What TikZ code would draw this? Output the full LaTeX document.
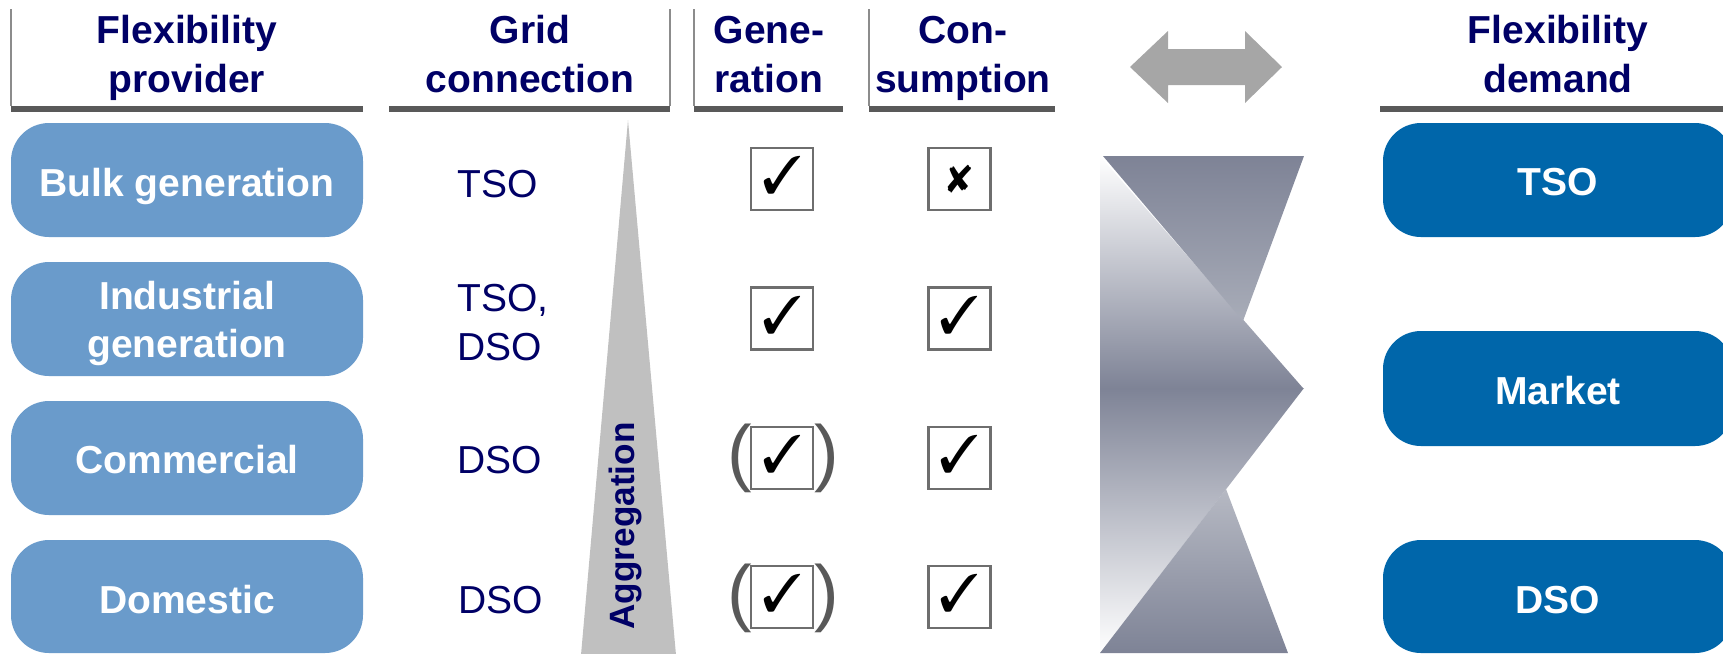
\documentclass[tikz,border=0pt]{standalone}
\usepackage{fontspec}
\setmainfont{Liberation Sans}
\usepackage{pifont}
\definecolor{navy}{RGB}{0,0,102}
\definecolor{lblue}{RGB}{106,155,203}
\definecolor{dblue}{RGB}{0,102,170}
\definecolor{bargrey}{RGB}{89,89,89}
\definecolor{linegrey}{RGB}{140,140,140}
\definecolor{arrowgrey}{RGB}{166,166,166}
\definecolor{trigrey}{RGB}{192,192,192}
\definecolor{boxgrey}{RGB}{110,110,110}
\definecolor{hgdark}{RGB}{126,131,150}
\definecolor{hgmid}{RGB}{168,172,184}
\definecolor{hglight}{RGB}{182,185,195}
\begin{document}
\begin{tikzpicture}[x=0.01cm,y=-0.01cm,
  hdr/.style={font=\fontsize{11.1}{13.9}\selectfont\bfseries, text=navy, align=center, inner sep=0pt},
  boxtxt/.style={font=\fontsize{11.1}{13.4}\selectfont\bfseries, text=white, align=center, inner sep=0pt},
  gridtxt/.style={font=\fontsize{11.1}{13.7}\selectfont, text=navy, align=left, inner sep=0pt, anchor=base west},
  lbox/.style={fill=lblue, rounded corners=10.8pt},
  rbox/.style={fill=dblue, rounded corners=10.8pt},
  hbar/.style={fill=bargrey},
  hline/.style={draw=linegrey, line width=0.4pt},
  chkbox/.style={draw=boxgrey, line width=0.6pt, minimum size=0.62cm, inner sep=0pt},
  chk/.style={font=\fontsize{15}{15}\selectfont, inner sep=0pt},
  paren/.style={font=\fontsize{21}{21}\selectfont, text=bargrey, inner sep=0pt},
]
\useasboundingbox (0,0) rectangle (1723,653);
\clip (0,0) rectangle (1723,653);

% header bars and lines
\fill[hbar] (11,106) rectangle (363,112);
\fill[hbar] (389,106) rectangle (670,112);
\fill[hbar] (694,106) rectangle (843,112);
\fill[hbar] (869,106) rectangle (1055,112);
\fill[hbar] (1380,106) rectangle (1723,112);
\draw[hline] (11,9) -- (11,106);
\draw[hline] (670,9) -- (670,106);
\draw[hline] (694,9) -- (694,106);
\draw[hline] (869,9) -- (869,106);

% headers (anchor base = baseline of last line)
\node[hdr, anchor=base] (h1) at (187,92) {Flexibility\\provider};
\node[hdr, anchor=base] (h2) at (530,92) {Grid\\connection};
\node[hdr, anchor=base] (h3) at (769,92) {Gene-\\ration};
\node[hdr, anchor=base] (h4) at (963,92) {Con-\\sumption};
\node[hdr, anchor=base] (h5) at (1558,92) {Flexibility\\demand};

% double arrow
\fill[arrowgrey] (1130,67) -- (1168,31) -- (1168,49) -- (1245,49) -- (1245,31)
  -- (1282,67) -- (1245,103) -- (1245,85) -- (1168,85) -- (1168,103) -- cycle;

% left boxes
\fill[lbox] (11,123) rectangle (363,237);
\fill[lbox] (11,262) rectangle (363,376);
\fill[lbox] (11,401) rectangle (363,515);
\fill[lbox] (11,540) rectangle (363,653);
\node[boxtxt, anchor=base] (bulk) at (187,196) {Bulk generation};
\node[boxtxt, anchor=base] (ind) at (187,357) {Industrial\\generation};
\node[boxtxt, anchor=base] (com) at (187,473) {Commercial};
\node[boxtxt, anchor=base] (dom) at (187,613) {Domestic};

% grid connection
\node[gridtxt] (g1) at (457,197) {TSO};
\node[gridtxt] (g2) at (457,360) {TSO,\\DSO};
\node[gridtxt] (g3) at (457,473) {DSO};
\node[gridtxt] (g4) at (458,613) {DSO};

% aggregation triangle
\fill[trigrey] (628,120) -- (676,655) -- (581,655) -- cycle;
\node[font=\fontsize{10}{10}\selectfont\bfseries, text=navy, rotate=90, anchor=base, inner sep=0pt] (agg) at (634,526) {Aggregation};

% check boxes
\node[chkbox] (gen1) at (782,179) {};
\node[chkbox] (gen2) at (782,318.5) {};
\node[chkbox] (gen3) at (782,458) {};
\node[chkbox] (gen4) at (782,597) {};
\node[chkbox] (con1) at (959.5,179) {};
\node[chkbox] (con2) at (959.5,318.5) {};
\node[chkbox] (con3) at (959.5,458) {};
\node[chkbox] (con4) at (959.5,597) {};
\node[chk] (cg1) at ([yshift=1pt]gen1.center) {\ding{51}};
\node[chk] (cg2) at ([yshift=1pt]gen2.center) {\ding{51}};
\node[chk] (cg3) at ([yshift=1pt]gen3.center) {\ding{51}};
\node[chk] (cg4) at ([yshift=1pt]gen4.center) {\ding{51}};
\node[inner sep=0pt, font=\fontsize{11}{11}\selectfont] (cc1) at (con1.center) {\ding{56}};
\node[chk] (cc2) at ([yshift=1pt]con2.center) {\ding{51}};
\node[chk] (cc3) at ([yshift=1pt]con3.center) {\ding{51}};
\node[chk] (cc4) at ([yshift=1pt]con4.center) {\ding{51}};
\node[paren] (p3l) at (740,458) {(};
\node[paren] (p3r) at (826.5,458) {)};
\node[paren] (p4l) at (740,598) {(};
\node[paren] (p4r) at (826.5,598) {)};

% hourglass-like shape
\shade[top color=white, bottom color=hgdark] (1100,156) -- (1303,388) -- (1100,388) -- cycle;
\shade[top color=hgdark, bottom color=hgmid] (1103,156) -- (1304,156) -- (1243,321) -- cycle;
\shade[top color=hgdark, bottom color=white] (1100,388) -- (1304,388) -- (1100,653) -- cycle;
\shade[top color=hglight, bottom color=hgdark] (1226,489) -- (1288,653) -- (1100,653) -- cycle;

% right boxes
\fill[rbox] (1383,123) rectangle (1733,237);
\fill[rbox] (1383,331) rectangle (1733,446);
\fill[rbox] (1383,540) rectangle (1733,653);
\node[boxtxt, anchor=base] (tso) at (1558,195) {TSO};
\node[boxtxt, anchor=base] (mkt) at (1558,404) {Market};
\node[boxtxt, anchor=base] (dso) at (1558,613) {DSO};
\end{tikzpicture}
\end{document}
